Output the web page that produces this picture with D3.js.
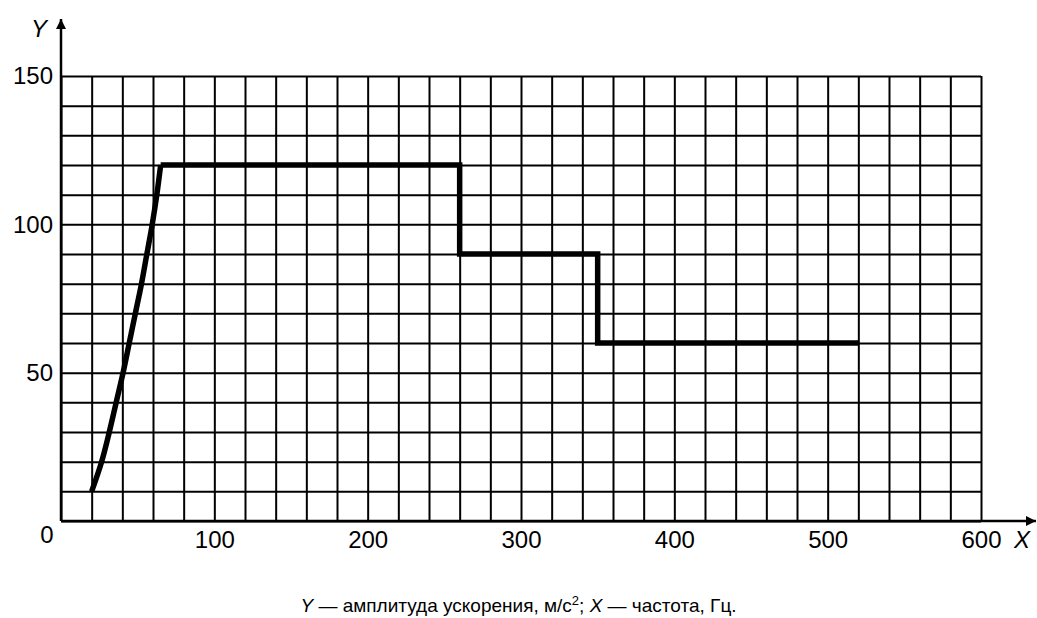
<!DOCTYPE html>
<html>
<head>
<meta charset="utf-8">
<script src="https://cdn.jsdelivr.net/npm/d3@7"></script>
<style>
  body { margin: 0; background: #fff; }
  text { font-family: "Liberation Sans", Arial, sans-serif; fill: #000; }
</style>
</head>
<body>
<script>
// acceleration profile
// rising part (smooth)
const riseFreq = [20, 26.5, 31.5, 36, 40.5, 44.5, 48.5, 52.5, 56, 59.5, 62.5, 65];
const riseAmp = [10, 20, 30, 40, 50, 60, 70, 80, 90, 100, 110, 120];
// stepped part
const stepFreq = [65, 260, 260, 350, 350, 520];
const stepAmp = [120, 120, 90, 90, 60, 60];

const xTickLabels = [100, 200, 300, 400, 500, 600];
const yTickLabels = [50, 100, 150];

const W = 1037;
const H = 618;

const x = d3.scaleLinear().domain([0, 600]).range([61, 981]);
const y = d3.scaleLinear().domain([0, 150]).range([521, 76]);

const svg = d3.select('body').append('svg')
  .attr('width', W)
  .attr('height', H);

// grid: every 20 Hz and every 10 m/s2
const gridX = svg.append('g')
  .attr('transform', `translate(0,${y(0)})`)
  .call(d3.axisBottom(x).ticks(30).tickSize(-(y(0) - y(150))).tickFormat(''));
gridX.select('.domain').remove();
gridX.selectAll('line').attr('stroke', '#000').attr('stroke-width', 2);

const gridY = svg.append('g')
  .attr('transform', `translate(${x(0)},0)`)
  .call(d3.axisLeft(y).ticks(15).tickSize(-(x(600) - x(0))).tickFormat(''));
gridY.select('.domain').remove();
gridY.selectAll('line').attr('stroke', '#000').attr('stroke-width', 2);

// arrows
svg.append('defs').append('marker')
  .attr('id', 'arr')
  .attr('viewBox', '0 0 10 10')
  .attr('refX', 10)
  .attr('refY', 5)
  .attr('markerWidth', 15)
  .attr('markerHeight', 10)
  .attr('markerUnits', 'userSpaceOnUse')
  .attr('orient', 'auto')
  .append('path')
  .attr('d', 'M0,0 L10,5 L0,10 z')
  .attr('fill', '#000');

svg.append('line')
  .attr('x1', x(0)).attr('y1', y(0))
  .attr('x2', x(0)).attr('y2', 19)
  .attr('stroke', '#000').attr('stroke-width', 2.5)
  .attr('marker-end', 'url(#arr)');

svg.append('line')
  .attr('x1', x(0)).attr('y1', y(0))
  .attr('x2', 1036).attr('y2', y(0))
  .attr('stroke', '#000').attr('stroke-width', 2.5)
  .attr('marker-end', 'url(#arr)');

// tick labels
const xAxis = svg.append('g')
  .attr('transform', `translate(0,${y(0)})`)
  .call(d3.axisBottom(x).tickValues(xTickLabels).tickSize(0).tickPadding(10));
xAxis.select('.domain').remove();
xAxis.selectAll('text').attr('font-size', 24).attr('fill', '#000')
  .attr('font-family', '"Liberation Sans", Arial, sans-serif');

const yAxis = svg.append('g')
  .attr('transform', `translate(${x(0)},0)`)
  .call(d3.axisLeft(y).tickValues(yTickLabels).tickSize(0).tickPadding(8));
yAxis.select('.domain').remove();
yAxis.selectAll('text').attr('font-size', 24).attr('fill', '#000')
  .attr('font-family', '"Liberation Sans", Arial, sans-serif');

svg.append('text')
  .attr('x', 47).attr('y', 543)
  .attr('text-anchor', 'middle')
  .attr('font-size', 24)
  .text('0');

svg.append('text')
  .attr('x', 39).attr('y', 37)
  .attr('text-anchor', 'middle')
  .attr('font-size', 24)
  .attr('font-style', 'italic')
  .text('Y');

svg.append('text')
  .attr('x', 1022).attr('y', 548)
  .attr('text-anchor', 'middle')
  .attr('font-size', 24)
  .attr('font-style', 'italic')
  .text('X');

// the profile line
const rise = riseFreq.map((f, i) => ({ f, a: riseAmp[i] }));
const steps = stepFreq.map((f, i) => ({ f, a: stepAmp[i] }));

svg.append('path')
  .datum(rise)
  .attr('fill', 'none')
  .attr('stroke', '#000')
  .attr('stroke-width', 5.5)
  .attr('d', d3.line().curve(d3.curveCatmullRom).x(d => x(d.f)).y(d => y(d.a)));

svg.append('path')
  .datum(steps)
  .attr('fill', 'none')
  .attr('stroke', '#000')
  .attr('stroke-width', 5.5)
  .attr('stroke-linejoin', 'miter')
  .attr('d', d3.line().x(d => x(d.f)).y(d => y(d.a)));

// caption
const cap = svg.append('text')
  .attr('x', W / 2).attr('y', 612)
  .attr('text-anchor', 'middle')
  .attr('font-size', 19);
cap.append('tspan').attr('font-style', 'italic').text('Y');
cap.append('tspan').text(' — амплитуда ускорения, м/с');
cap.append('tspan').attr('dy', -7).attr('font-size', 13).text('2');
cap.append('tspan').attr('dy', 7).text('; ');
cap.append('tspan').attr('font-style', 'italic').text('X');
cap.append('tspan').text(' — частота, Гц.');
</script>
</body>
</html>
